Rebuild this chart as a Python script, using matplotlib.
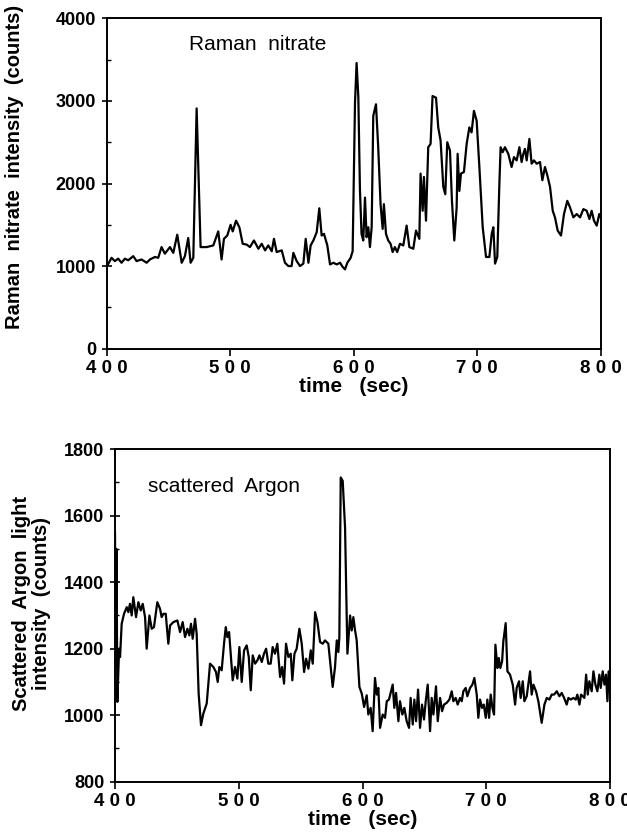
import numpy as np
import matplotlib
matplotlib.use("Agg")
import matplotlib.pyplot as plt
from matplotlib.ticker import MultipleLocator, FuncFormatter

plt.rcParams['font.family'] = ['Liberation Sans', 'DejaVu Sans']

# top panel: Raman nitrate signal
nitrate_t = [400.0, 404.0, 406.7, 409.4, 412.1, 414.8, 417.5, 421.6, 424.3, 428.3,
             432.4, 435.1, 439.1, 441.8, 444.5, 447.2, 451.3, 454.0, 457.2, 460.8,
             463.4, 466.1, 468.0, 470.2, 472.9, 476.1, 481.0, 486.4, 490.4, 493.1,
             495.0, 497.7, 500.4, 502.1, 504.8, 507.5, 510.2, 513.4, 516.1, 519.3,
             522.9, 525.6, 528.3, 530.9, 533.7, 535.5, 537.7, 541.8, 544.4, 547.2,
             549.8, 551.2, 553.9, 556.6, 559.3, 561.2, 563.4, 565.2, 567.4, 570.1,
             572.2, 574.1, 576.0, 578.7, 580.9, 583.6, 586.3, 589.0, 591.1, 593.0,
             594.9, 597.6, 599.2, 601.1, 602.4, 603.8, 605.1, 606.4, 607.8, 609.2,
             610.5, 611.9, 613.2, 614.6, 615.9, 618.1, 619.9, 621.8, 623.5, 624.5,
             626.2, 628.0, 629.9, 631.6, 633.4, 635.3, 637.5, 640.2, 642.9, 645.1,
             648.3, 650.5, 653.2, 654.2, 655.9, 656.9, 658.6, 660.4, 662.3, 663.9,
             666.7, 668.5, 670.4, 672.6, 674.2, 675.8, 678.0, 679.6, 681.5, 683.4,
             684.2, 685.6, 686.9, 689.3, 691.5, 693.7, 695.5, 697.4, 699.6, 701.8,
             704.5, 707.2, 709.9, 711.8, 713.1, 714.5, 716.3, 718.0, 719.0, 720.7,
             722.5, 725.2, 727.9, 729.8, 732.0, 734.2, 736.0, 737.4, 738.7, 740.1,
             742.3, 744.1, 746.0, 748.2, 750.9, 752.8, 754.9, 756.8, 759.0, 761.2,
             763.0, 765.2, 767.9, 770.3, 773.0, 775.2, 777.9, 780.6, 783.3, 786.0,
             788.7, 790.9, 792.7, 794.6, 796.8, 798.9, 800.0]
nitrate_counts = [990, 1100, 1060, 1090, 1040, 1090, 1070, 1120, 1060, 1080,
                  1040, 1080, 1110, 1100, 1230, 1150, 1230, 1160, 1380, 1040,
                  1120, 1340, 1040, 1100, 2910, 1230, 1230, 1250, 1420, 1080,
                  1330, 1370, 1500, 1420, 1550, 1470, 1270, 1260, 1230, 1310,
                  1210, 1270, 1190, 1250, 1180, 1330, 1170, 1190, 1040, 1000,
                  1000, 1160, 1060, 1000, 1030, 1330, 1040, 1250, 1310, 1410,
                  1700, 1370, 1390, 1250, 1020, 1040, 1020, 1040, 990, 960,
                  1040, 1100, 1180, 2970, 3460, 3050, 1930, 1390, 1310, 1830,
                  1350, 1470, 1230, 1470, 2820, 2960, 2440, 1750, 1450, 1750,
                  1390, 1310, 1270, 1170, 1230, 1170, 1270, 1250, 1490, 1230,
                  1210, 1430, 1330, 2120, 1670, 2080, 1550, 2440, 2480, 3060,
                  3040, 2680, 2520, 1960, 1870, 2500, 2400, 1790, 1310, 1710,
                  2360, 1910, 2120, 2140, 2480, 2680, 2620, 2880, 2760, 2200,
                  1470, 1110, 1110, 1390, 1470, 1030, 1110, 2000, 2440, 2380,
                  2440, 2360, 2200, 2320, 2280, 2440, 2260, 2360, 2420, 2280,
                  2540, 2240, 2280, 2240, 2260, 2040, 2200, 2100, 1960, 1670,
                  1590, 1430, 1370, 1630, 1790, 1710, 1590, 1630, 1590, 1690,
                  1670, 1570, 1670, 1550, 1490, 1630, 1590]

# bottom panel: scattered Argon light
argon_t = [400.0, 400.6, 401.2, 401.9, 402.6, 403.3, 404.1, 405.4, 407.3, 409.5,
           410.8, 412.1, 413.5, 414.8, 417.0, 418.9, 420.8, 422.4, 424.3, 425.6,
           427.8, 429.7, 431.5, 434.2, 436.4, 437.7, 439.1, 441.0, 443.1, 444.5,
           447.2, 450.4, 452.6, 454.7, 456.6, 458.5, 460.1, 461.4, 462.8, 464.7,
           466.0, 467.6, 469.5, 471.4, 474.1, 476.8, 479.5, 481.6, 483.0, 484.3,
           486.2, 488.1, 489.5, 490.8, 492.2, 493.5, 495.1, 497.0, 498.9, 500.5,
           502.4, 504.3, 506.4, 508.1, 509.7, 511.3, 513.2, 515.1, 516.7, 518.6,
           520.4, 522.1, 523.9, 525.8, 527.4, 529.3, 531.2, 533.4, 535.0, 536.6,
           538.2, 540.1, 542.0, 543.3, 545.0, 546.8, 549.0, 550.9, 552.8, 554.4,
           556.3, 558.2, 559.8, 561.7, 563.6, 565.7, 567.9, 569.7, 572.4, 574.3,
           575.9, 577.8, 579.2, 580.5, 581.3, 582.4, 584.0, 585.9, 587.8, 590.0,
           591.3, 592.6, 594.0, 595.3, 597.5, 599.4, 601.3, 603.4, 604.7, 606.6,
           608.2, 610.1, 611.5, 612.8, 614.2, 616.3, 618.2, 619.6, 621.4, 623.1,
           624.4, 625.7, 627.1, 629.0, 630.3, 632.2, 633.8, 635.7, 637.6, 638.9,
           640.6, 641.9, 643.3, 644.9, 646.5, 648.1, 649.7, 651.1, 652.7, 654.6,
           655.9, 657.3, 659.4, 660.8, 662.7, 664.3, 665.9, 668.0, 670.2, 672.1,
           673.4, 675.3, 676.9, 678.8, 680.2, 681.5, 683.4, 684.7, 686.9, 688.8,
           690.4, 692.3, 693.6, 695.0, 696.6, 698.0, 699.6, 700.9, 702.3, 703.6,
           705.0, 706.3, 707.4, 709.0, 710.1, 711.4, 712.8, 713.8, 715.7, 717.1,
           719.2, 721.4, 723.3, 724.6, 726.5, 727.8, 729.5, 730.8, 732.7, 734.0,
           735.4, 736.7, 738.1, 740.2, 742.1, 744.8, 747.0, 748.9, 751.0, 752.9,
           754.8, 757.0, 759.1, 761.0, 762.9, 765.0, 766.4, 768.3, 770.4, 772.3,
           773.6, 775.3, 776.6, 778.0, 779.3, 780.7, 782.0, 783.3, 785.2, 786.6,
           788.2, 789.8, 791.4, 792.5, 794.1, 795.5, 796.8, 797.9, 799.0, 800.0]
argon_counts = [1550, 1250, 1500, 1040, 1120, 1200, 1175, 1275, 1305, 1325,
                1310, 1335, 1300, 1355, 1295, 1340, 1315, 1335, 1295, 1200,
                1300, 1260, 1265, 1340, 1320, 1295, 1305, 1305, 1215, 1270,
                1280, 1285, 1250, 1280, 1235, 1260, 1240, 1275, 1230, 1290,
                1245, 1065, 970, 1005, 1035, 1155, 1145, 1130, 1100, 1145,
                1135, 1215, 1265, 1235, 1250, 1185, 1105, 1145, 1110, 1205,
                1100, 1195, 1210, 1175, 1075, 1180, 1155, 1165, 1180, 1160,
                1185, 1200, 1155, 1155, 1205, 1185, 1215, 1115, 1145, 1095,
                1215, 1175, 1185, 1105, 1185, 1200, 1260, 1215, 1130, 1170,
                1140, 1195, 1155, 1310, 1280, 1220, 1215, 1225, 1215, 1145,
                1085, 1145, 1225, 1190, 1235, 1715, 1705, 1565, 1185, 1300,
                1255, 1295, 1255, 1225, 1085, 1065, 1025, 1060, 1002, 1022,
                952, 1112, 1062, 1082, 962, 1002, 992, 1042, 1047, 1072,
                1092, 1022, 1067, 982, 1042, 1002, 1022, 982, 962, 1052,
                972, 1047, 982, 1077, 962, 1032, 987, 1042, 1092, 952,
                1052, 1002, 1087, 982, 1052, 1012, 1032, 1037, 1047, 1072,
                1042, 1052, 1032, 1052, 1042, 1072, 1082, 1057, 1082, 1092,
                1112, 1062, 992, 1047, 1022, 1032, 992, 1047, 992, 1062,
                1022, 1002, 1212, 1142, 1172, 1142, 1162, 1222, 1277, 1132,
                1122, 1092, 1032, 1082, 1102, 1052, 1102, 1042, 1057, 1092,
                1132, 1062, 1092, 1072, 1042, 977, 1032, 1052, 1047, 1062,
                1062, 1072, 1057, 1067, 1052, 1032, 1052, 1047, 1052, 1047,
                1062, 1032, 1062, 1057, 1052, 1122, 1062, 1102, 1072, 1132,
                1092, 1072, 1122, 1082, 1132, 1092, 1122, 1042, 1132, 1102]

time_ticks = [400, 500, 600, 700, 800]


def spaced(v, pos):
    # old plotter put wide gaps between digits on the time axis
    return " ".join(str(int(round(v))))


def style_axis(ax, ymajor, yminor):
    for s in ax.spines.values():
        s.set_linewidth(1.4)
    ax.set_xlim(400, 800)
    ax.set_xticks(time_ticks)
    ax.xaxis.set_major_formatter(FuncFormatter(spaced))
    ax.yaxis.set_major_locator(MultipleLocator(ymajor))
    ax.yaxis.set_minor_locator(MultipleLocator(yminor))
    ax.tick_params(axis='x', direction='out', length=5, width=1.2, pad=3,
                   labelsize=13.5)
    ax.tick_params(axis='y', which='major', direction='inout', length=7,
                   width=1.2, pad=4, labelsize=13)
    ax.tick_params(axis='y', which='minor', direction='in', length=3, width=1.0)
    for lab in ax.get_xticklabels() + ax.get_yticklabels():
        lab.set_fontweight('bold')
    ax.set_xlabel("time   (sec)", fontsize=15, fontweight='bold', labelpad=0)


fig = plt.figure(figsize=(6.27, 8.38), dpi=100)

ax1 = fig.add_axes([0.170, 0.584, 0.788, 0.394])
ax1.plot(nitrate_t, nitrate_counts, color='black', lw=1.6)
ax1.set_ylim(0, 4000)
style_axis(ax1, 1000, 500)
ax1.set_ylabel("Raman  nitrate  intensity  (counts)", fontsize=14.5,
               fontweight='bold')
ax1.yaxis.set_label_coords(-0.168, 0.55)
ax1.text(467, 3680, "Raman  nitrate", fontsize=15, va='center', ha='left')

ax2 = fig.add_axes([0.1834, 0.0672, 0.7895, 0.3967])
ax2.plot(argon_t, argon_counts, color='black', lw=1.6)
ax2.set_ylim(800, 1800)
style_axis(ax2, 200, 100)
ax2.set_ylabel("Scattered  Argon  light\nintensity  (counts)", fontsize=14.5,
               fontweight='bold', linespacing=1.05)
ax2.yaxis.set_label_coords(-0.13, 0.535)
ax2.text(427, 1687, "scattered  Argon", fontsize=15, va='center', ha='left')

fig.savefig("out.png", dpi=100)
